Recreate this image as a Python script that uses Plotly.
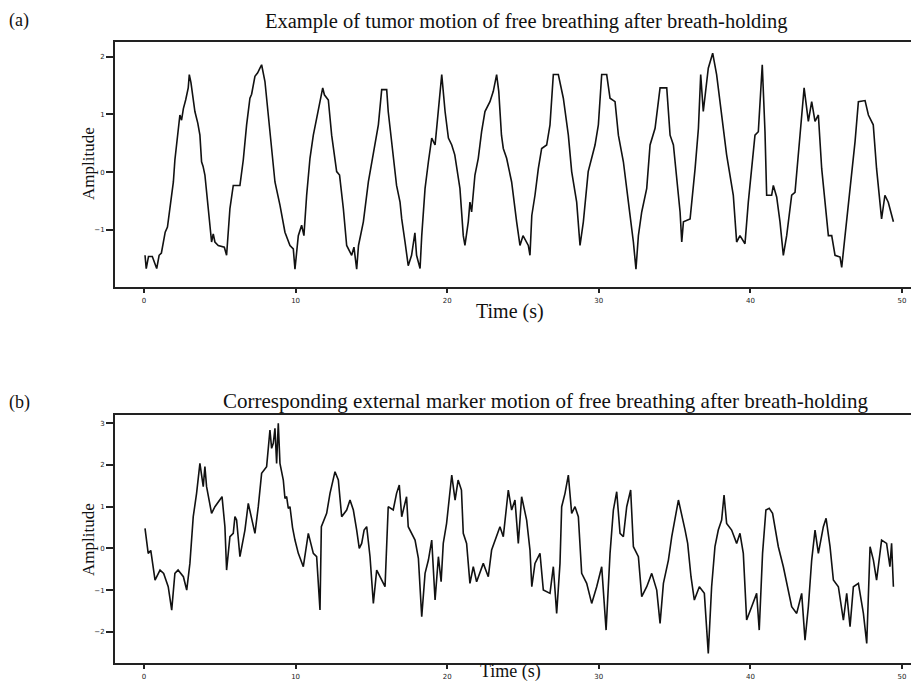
import plotly.graph_objects as go

# ---------------- data ----------------
# (a) tumor motion
time_a = [0.07, 0.15, 0.30, 0.55, 0.84, 1.00, 1.15, 1.40, 1.55, 1.72, 1.94, 2.04, 2.26, 2.37, 2.48, 2.60, 2.75, 2.92, 2.99, 3.10,
          3.36, 3.55, 3.69, 3.73, 3.80, 3.90, 4.02, 4.24, 4.46, 4.57, 4.68, 4.90, 5.30, 5.45, 5.67, 5.89, 6.33, 6.55, 6.77, 6.99,
          7.10, 7.32, 7.50, 7.65, 7.76, 7.98, 8.31, 8.64, 8.97, 9.30, 9.63, 9.85, 9.96, 10.07, 10.18, 10.40, 10.55, 10.73, 10.95, 11.17,
          11.50, 11.79, 11.90, 12.16, 12.38, 12.71, 12.90, 13.15, 13.37, 13.70, 13.85, 14.03, 14.15, 14.47, 14.80, 15.13, 15.35, 15.46, 15.68, 16.01,
          16.11, 16.33, 16.66, 16.89, 17.00, 17.22, 17.43, 17.65, 17.87, 17.98, 18.21, 18.32, 18.54, 18.76, 18.98, 19.20, 19.41, 19.64, 19.86, 20.08,
          20.30, 20.50, 20.84, 21.06, 21.17, 21.39, 21.50, 21.61, 21.83, 22.05, 22.27, 22.49, 22.82, 23.04, 23.26, 23.40, 23.58, 23.70, 23.92, 24.25,
          24.58, 24.80, 25.00, 25.35, 25.46, 25.58, 25.79, 26.01, 26.23, 26.56, 26.78, 27.00, 27.33, 27.66, 27.99, 28.21, 28.54, 28.76, 28.98, 29.30,
          29.75, 29.97, 30.19, 30.52, 30.74, 31.07, 31.29, 31.62, 32.06, 32.28, 32.45, 32.61, 32.83, 33.16, 33.38, 33.71, 34.04, 34.48, 34.70, 34.92,
          35.36, 35.47, 35.58, 36.02, 36.35, 36.57, 36.72, 36.89, 37.22, 37.51, 37.77, 37.99, 38.43, 38.87, 39.09, 39.31, 39.64, 39.86, 40.30, 40.52,
          40.74, 40.78, 40.96, 41.07, 41.40, 41.51, 41.73, 41.95, 42.17, 42.39, 42.72, 42.94, 43.27, 43.54, 43.82, 44.04, 44.26, 44.48, 44.70, 45.14,
          45.36, 45.58, 45.91, 46.02, 46.24, 46.57, 46.90, 47.12, 47.56, 47.78, 48.10, 48.32, 48.65, 48.87, 49.09, 49.43]
amp_a = [-1.44, -1.67, -1.46, -1.46, -1.67, -1.44, -1.40, -1.04, -0.95, -0.63, -0.17, 0.21, 0.82, 0.99, 0.90, 1.10, 1.25, 1.46, 1.69, 1.55,
         1.05, 0.85, 0.64, 0.40, 0.18, 0.10, -0.05, -0.63, -1.21, -1.07, -1.21, -1.27, -1.30, -1.44, -0.63, -0.23, -0.23, 0.21, 0.82, 1.28,
         1.35, 1.66, 1.72, 1.80, 1.86, 1.57, 0.70, -0.17, -0.57, -1.04, -1.27, -1.33, -1.68, -1.33, -1.10, -0.92, -1.10, -0.40, 0.24, 0.64,
         1.05, 1.46, 1.34, 1.25, 0.64, 0.01, -0.05, -0.63, -1.27, -1.44, -1.30, -1.68, -1.27, -0.86, -0.17, 0.35, 0.70, 0.82, 1.43, 1.43,
         1.05, 0.53, -0.23, -0.52, -0.81, -1.21, -1.62, -1.44, -1.05, -1.44, -1.67, -1.10, -0.28, 0.18, 0.59, 0.47, 1.05, 1.69, 1.05, 0.59,
         0.47, 0.30, -0.28, -1.10, -1.27, -0.86, -0.52, -0.69, -0.05, 0.24, 0.70, 1.05, 1.22, 1.40, 1.69, 1.40, 0.64, 0.41, 0.24, -0.17,
         -0.86, -1.27, -1.10, -1.27, -1.44, -0.75, -0.40, 0.06, 0.41, 0.47, 0.82, 1.69, 1.69, 1.28, 0.64, 0.01, -0.52, -1.27, -0.86, 0.01,
         0.47, 0.82, 1.69, 1.69, 1.28, 1.22, 0.64, 0.18, -0.75, -1.21, -1.68, -1.10, -0.69, -0.28, 0.47, 0.76, 1.46, 1.46, 0.64, 0.47,
         -0.69, -1.21, -0.86, -0.81, 0.06, 0.76, 1.69, 1.05, 1.80, 2.06, 1.69, 1.22, 0.30, -0.40, -1.21, -1.10, -1.24, -0.52, 0.64, 0.70,
         1.57, 1.86, 0.70, -0.40, -0.40, -0.23, -0.43, -0.86, -1.44, -1.10, -0.40, -0.35, 0.64, 1.46, 0.88, 1.22, 0.88, 0.99, 0.06, -1.10,
         -1.10, -1.44, -1.47, -1.65, -1.10, -0.28, 0.53, 1.22, 1.24, 0.99, 0.82, 0.06, -0.81, -0.40, -0.52, -0.86]

# (b) external marker motion
time_b = [0.07, 0.28, 0.45, 0.73, 1.06, 1.30, 1.60, 1.83, 2.04, 2.25, 2.60, 2.82, 3.03, 3.15, 3.25, 3.47, 3.69, 3.91, 4.02, 4.13,
          4.46, 4.68, 5.01, 5.15, 5.34, 5.45, 5.67, 5.89, 6.00, 6.11, 6.33, 6.66, 6.88, 7.10, 7.32, 7.54, 7.76, 8.09, 8.31, 8.42,
          8.53, 8.64, 8.75, 8.86, 8.97, 9.19, 9.30, 9.41, 9.52, 9.63, 9.80, 9.96, 10.18, 10.51, 10.84, 11.17, 11.39, 11.61, 11.70, 12.05,
          12.27, 12.60, 12.82, 13.04, 13.37, 13.59, 13.81, 14.03, 14.20, 14.36, 14.52, 14.69, 14.91, 15.13, 15.35, 15.90, 16.11, 16.44, 16.66, 16.84,
          17.00, 17.32, 17.43, 17.88, 18.10, 18.32, 18.54, 18.76, 18.98, 19.20, 19.42, 19.60, 19.74, 19.96, 20.30, 20.52, 20.72, 20.94, 21.06, 21.28,
          21.50, 21.72, 21.94, 22.38, 22.71, 22.93, 23.26, 23.48, 23.70, 24.03, 24.25, 24.47, 24.69, 24.91, 25.24, 25.46, 25.58, 25.79, 26.12, 26.34,
          26.78, 27.00, 27.22, 27.44, 27.55, 27.77, 27.99, 28.21, 28.43, 28.65, 28.87, 29.20, 29.53, 29.86, 30.19, 30.48, 30.74, 30.96, 31.18, 31.40,
          31.62, 31.84, 32.10, 32.28, 32.61, 32.83, 33.16, 33.49, 33.82, 34.04, 34.26, 34.59, 34.81, 35.14, 35.25, 35.69, 35.86, 36.08, 36.30, 36.63,
          36.96, 37.22, 37.44, 37.66, 37.88, 38.10, 38.26, 38.43, 38.76, 39.09, 39.31, 39.53, 39.75, 40.08, 40.41, 40.58, 40.80, 41.02, 41.24, 41.46,
          41.84, 42.17, 42.39, 42.72, 43.05, 43.38, 43.60, 43.82, 44.04, 44.26, 44.48, 44.81, 44.99, 45.25, 45.47, 45.80, 46.13, 46.35, 46.57, 46.79,
          47.12, 47.45, 47.67, 47.89, 48.11, 48.32, 48.65, 48.98, 49.20, 49.31, 49.43]
amp_b = [0.48, -0.12, -0.05, -0.76, -0.52, -0.60, -0.92, -1.48, -0.60, -0.52, -0.68, -1.00, -0.36, 0.28, 0.76, 1.32, 2.04, 1.48, 1.96, 1.48,
         0.84, 1.00, 1.16, 1.24, 0.52, -0.52, 0.28, 0.36, 0.76, 0.68, -0.20, 0.44, 1.08, 0.68, 0.36, 1.00, 1.80, 1.96, 2.84, 2.40,
         2.52, 2.88, 2.04, 3.00, 2.04, 1.64, 1.20, 1.24, 0.96, 1.00, 0.50, 0.20, -0.12, -0.44, 0.36, -0.12, -0.20, -1.48, 0.52, 0.84,
         1.32, 1.84, 1.64, 0.76, 0.92, 1.16, 0.92, 0.44, 0.00, 0.12, 0.44, 0.52, -0.20, -1.32, -0.52, -0.92, 1.00, 0.92, 1.32, 1.52,
         0.76, 1.24, 0.52, 0.20, -0.24, -1.64, -0.60, -0.28, 0.20, -1.24, -0.20, -0.80, 0.12, 0.60, 1.76, 1.16, 1.64, 1.40, 0.36, 0.12,
         -0.84, -0.44, -0.80, -0.36, -0.68, -0.04, 0.28, 0.52, 0.28, 1.40, 0.92, 1.16, 0.12, 1.24, 0.68, -0.04, -0.92, -0.36, -0.12, -1.00,
         -1.08, -0.44, -1.56, -0.36, 1.00, 1.32, 1.76, 0.84, 1.00, 0.76, -0.60, -0.84, -1.32, -0.92, -0.44, -1.96, -0.12, 0.92, 1.36, 0.36,
         0.28, 1.00, 1.40, 0.04, -0.20, -1.16, -0.92, -0.60, -1.00, -1.80, -0.84, -0.28, 0.28, 0.92, 1.16, 0.44, 0.12, -0.68, -1.24, -0.92,
         -1.08, -2.52, -0.92, 0.04, 0.44, 0.68, 1.28, 0.60, 0.44, 0.12, 0.36, -0.12, -1.72, -1.40, -1.08, -1.96, -0.12, 0.92, 0.96, 0.84,
         0.04, -0.44, -0.84, -1.40, -1.56, -1.08, -2.20, -1.40, -0.28, 0.44, -0.12, 0.52, 0.72, 0.04, -0.76, -0.92, -1.72, -1.08, -1.88, -0.92,
         -0.84, -1.56, -2.28, 0.04, -0.28, -0.76, 0.20, 0.12, -0.44, 0.12, -0.92]

x_ticks = [0, 10, 20, 30, 40, 50]
y_ticks_a = [2, 1, 0, -1]
y_ticks_b = [3, 2, 1, 0, -1, -2]

title_a = "Example of tumor motion of free breathing after breath-holding"
title_b = "Corresponding external marker motion of free breathing after breath-holding"

# ---------------- figure ----------------
# the page body has an 8px margin, so the figure is drawn 8px in from the window corner
OFF = 8
W, H = 919 - 2 * OFF, 689 - 2 * OFF
L = 115 - OFF  # left edge of plot area in figure px

fig = go.Figure()
line_style = dict(color="#111111", width=1.6)
fig.add_trace(go.Scatter(x=time_a, y=amp_a, mode="lines", line=line_style, xaxis="x", yaxis="y", showlegend=False))
fig.add_trace(go.Scatter(x=time_b, y=amp_b, mode="lines", line=line_style, xaxis="x2", yaxis="y2", showlegend=False))

def ydom(top_page, bot_page):
    return [1 - (bot_page - OFF) / H, 1 - (top_page - OFF) / H]

tickfont = dict(family="Arial Black, DejaVu Sans, Arial", size=7, color="#222222")
common_x = dict(range=[-1.91, 50.59], tickvals=x_ticks, ticks="outside", ticklen=4, tickwidth=1.5,
                tickcolor="#222", showline=True, linecolor="#222", linewidth=2, mirror=True,
                showgrid=False, zeroline=False, tickfont=tickfont, domain=[0, 1], ticklabelstandoff=2)
common_y = dict(ticks="outside", ticklen=7, tickwidth=1.5, tickcolor="#222", showline=True,
                linecolor="#222", linewidth=2, mirror=False, showgrid=False, zeroline=False,
                tickfont=tickfont)

fig.update_layout(
    width=W, height=H,
    margin=dict(l=L, r=0, t=0, b=0, autoexpand=False),
    paper_bgcolor="white", plot_bgcolor="white",
    xaxis=dict(**common_x, anchor="y"),
    yaxis=dict(**common_y, range=[-1.989, 2.254], tickvals=y_ticks_a, domain=ydom(42, 287), anchor="x"),
    xaxis2=dict(**common_x, anchor="y2"),
    yaxis2=dict(**common_y, range=[-2.75, 3.20], tickvals=y_ticks_b, domain=ydom(415, 663), anchor="x2"),
)

serif = "Liberation Serif, Times New Roman, serif"

def ann(text, x, y, size, angle=0, xanchor="center"):
    # x, y given in window pixels
    fig.add_annotation(text=text, xref="paper", yref="paper",
                       x=(x - OFF - L) / (W - L), y=1 - (y - OFF) / H, showarrow=False,
                       font=dict(family=serif, size=size, color="#111"), borderpad=0,
                       textangle=angle, xanchor=xanchor, yanchor="middle")

ann("(a)", 8, 20.5, 18, xanchor="left")
ann("(b)", 8, 402, 18, xanchor="left")
ann(title_a, 526, 21.5, 20.5)
ann(title_b, 545, 401, 21)
ann("Amplitude", 88, 164, 17, angle=-90)
ann("Amplitude", 88, 540, 17, angle=-90)
ann("Time (s)", 510, 312, 20)
ann("Time (s)", 510, 671, 18)

fig.write_html("out.html")
